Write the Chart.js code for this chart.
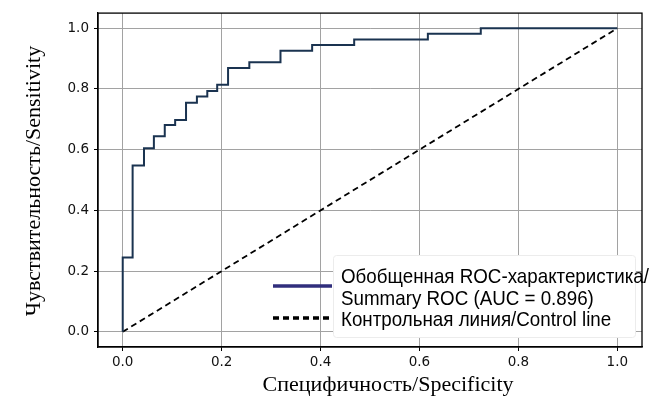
<!DOCTYPE html>
<html>
<head>
<meta charset="utf-8">
<script src="https://cdn.jsdelivr.net/npm/chart.js@4.4.0/dist/chart.umd.min.js"></script>
<style>
  html, body { margin: 0; padding: 0; background: #fff; }
  #wrap { width: 670px; height: 408px; }
</style>
</head>
<body>
<div id="wrap"><canvas id="roc" width="670" height="408"></canvas></div>
<script>
(function() {
  'use strict';

  // ROC curve corners (1 - specificity, sensitivity)
  var fpr = [0, 0, 0.020, 0.043, 0.063, 0.085, 0.106, 0.128, 0.150, 0.171, 0.191,
             0.213, 0.256, 0.319, 0.383, 0.468, 0.617, 0.724, 1.0];
  var tpr = [0, 0.245, 0.548, 0.605, 0.644, 0.681, 0.698, 0.755, 0.775, 0.793, 0.814,
             0.869, 0.888, 0.926, 0.945, 0.963, 0.982, 1.0, 1.0];

  // control line
  var diag_x = [0, 1];
  var diag_y = [0, 1];

  var tick_values = [0, 0.2, 0.4, 0.6, 0.8, 1.0];

  var curve_label   = ['Обобщенная ROC-характеристика/', 'Summary ROC (AUC = 0.896)'];
  var control_label = ['Контрольная линия/Control line'];
  var x_title = 'Специфичность/Specificity';
  var y_title = 'Чувствительность/Sensitivity';

  function points(xs, ys) {
    return xs.map(function(x, i) { return { x: x, y: ys[i] }; });
  }

  function fixTicks(scale) {
    scale.ticks = tick_values.map(function(v) { return { value: v }; });
  }

  // frame, legend box and axis titles
  var extras = {
    id: 'extras',
    afterDraw: function(chart) {
      var ctx = chart.ctx;
      var a = chart.chartArea;
      ctx.save();

      // frame
      ctx.strokeStyle = '#000';
      ctx.lineWidth = 1.3;
      ctx.strokeRect(a.left, a.top, a.right - a.left, a.bottom - a.top);

      // legend box
      ctx.fillStyle = '#fff';
      ctx.strokeStyle = '#ececec';
      ctx.lineWidth = 1;
      ctx.beginPath();
      ctx.roundRect(333.5, 255.5, 302, 82, 3);
      ctx.fill();
      ctx.stroke();

      var ds = chart.data.datasets;

      // handles
      ctx.strokeStyle = ds[0].legendColor;
      ctx.lineWidth = 3.5;
      ctx.setLineDash([]);
      ctx.beginPath();
      ctx.moveTo(273, 286);
      ctx.lineTo(332, 286);
      ctx.stroke();

      ctx.strokeStyle = ds[1].borderColor;
      ctx.setLineDash([6, 4]);
      ctx.beginPath();
      ctx.moveTo(273, 318);
      ctx.lineTo(332, 318);
      ctx.stroke();
      ctx.setLineDash([]);

      // legend texts (narrow sans)
      ctx.font = '21px "Liberation Sans", Arial, sans-serif';
      ctx.fillStyle = '#000';
      ctx.textBaseline = 'alphabetic';
      ctx.textAlign = 'left';
      var sx = 308 / ctx.measureText(ds[0].label[0]).width;
      ctx.save();
      ctx.translate(341, 0);
      ctx.scale(sx, 1);
      ctx.fillText(ds[0].label[0], 0, 283);
      ctx.fillText(ds[0].label[1], 0, 305);
      ctx.fillText(ds[1].label[0], 0, 326);
      ctx.restore();

      // axis titles
      ctx.font = '22px "Liberation Serif", "Times New Roman", serif';
      ctx.textAlign = 'center';
      ctx.fillText(x_title, 388, 391);
      ctx.translate(40, (a.top + a.bottom) / 2 + 1);
      ctx.rotate(-Math.PI / 2);
      ctx.fillText(y_title, 0, 0);

      ctx.restore();
    }
  };

  var tickFont = { family: '"DejaVu Sans", sans-serif', size: 13.5 };

  var ctx = document.getElementById('roc').getContext('2d');

  new Chart(ctx, {
    type: 'scatter',
    data: {
      datasets: [
        {
          label: curve_label,
          data: points(fpr, tpr),
          showLine: true,
          stepped: 'before',
          borderColor: '#1a3350',
          legendColor: '#302e7c',
          borderWidth: 2,
          pointRadius: 0,
          fill: false
        },
        {
          label: control_label,
          data: points(diag_x, diag_y),
          showLine: true,
          borderColor: '#000',
          borderWidth: 1.8,
          borderDash: [6, 4],
          pointRadius: 0,
          fill: false
        }
      ]
    },
    options: {
      responsive: false,
      animation: false,
      devicePixelRatio: 1,
      layout: { padding: { top: 11, right: 28, left: 0, bottom: 0 } },
      plugins: {
        legend: { display: false },
        tooltip: { enabled: false }
      },
      scales: {
        x: {
          type: 'linear',
          min: -0.05,
          max: 1.05,
          afterBuildTicks: fixTicks,
          afterFit: function(scale) { scale.height = 61; },
          grid: { color: '#a2a2a2', lineWidth: 1, tickColor: '#000', tickLength: 4 },
          border: { display: true, color: '#000', width: 1.3 },
          ticks: {
            font: tickFont,
            color: '#111',
            padding: 3,
            maxRotation: 0,
            callback: function(v) { return v.toFixed(1); }
          }
        },
        y: {
          type: 'linear',
          min: -0.05,
          max: 1.05,
          afterBuildTicks: fixTicks,
          afterFit: function(scale) { scale.width = 98; },
          grid: { color: '#a2a2a2', lineWidth: 1, tickColor: '#000', tickLength: 4 },
          border: { display: true, color: '#000', width: 1.3 },
          ticks: {
            font: tickFont,
            color: '#111',
            padding: 5,
            callback: function(v) { return v.toFixed(1); }
          }
        }
      }
    },
    plugins: [extras]
  });

})();
</script>
</body>
</html>
